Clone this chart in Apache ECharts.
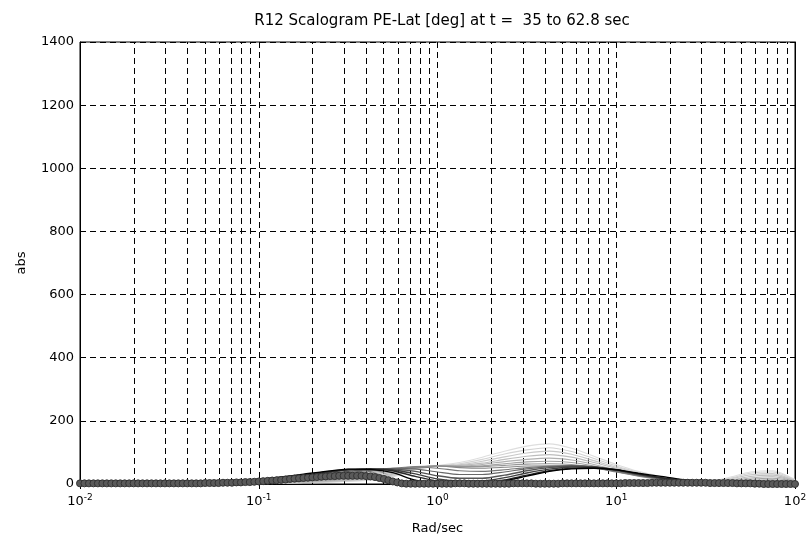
<!DOCTYPE html>
<html>
<head>
<meta charset="utf-8">
<script src="https://cdn.jsdelivr.net/npm/echarts@6/dist/echarts.min.js"></script>
<style>html,body{margin:0;padding:0;background:#fff}#chart{width:810px;height:544px}</style>
</head>
<body>
<div id="chart"></div>
<script>
// frequency grid (rad/sec) for the scalogram slices
const freqs = [0.01,0.0133,0.0178,0.0237,0.0316,0.0422,0.0562,0.075,0.1,0.133,0.178,0.237,0.316,0.422,0.562,0.75,1,1.33,1.78,2.37,3.16,4.22,5.62,7.5,10,13.3,17.8,23.7,31.6,42.2,56.2,75,100];

// slices, lightest (first) to darkest (last)
const c01 = [1,1,1,1,2,2,2,3, 3,3,4,5,8,12,22,45,58, 68,85,104,120,127,113,88,62,40,24,14,8,20,38,42,14];
const c02 = [1,1,1,2,2,2,3,3, 3,4,5,6,9,14,25,46,57, 64,78,95,108,115,103,81,57,37,22,13,8,17,34,38,13];
const c03 = [1,1,1,2,2,2,3,3, 4,4,5,7,11,16,28,47,56, 61,72,86,98,104,94,74,53,34,20,12,7,14,29,33,11];
const c04 = [1,1,2,2,2,3,3,4, 4,5,6,8,12,18,31,48,56, 59,66,78,88,93,85,68,49,31,19,11,7,11,24,28,10];
const c05 = [1,2,2,2,3,3,4,4, 5,6,7,10,14,21,34,49,57, 57,62,71,78,82,76,62,45,29,17,10,6,9,19,23,9];
const c06 = [2,2,2,3,3,3,4,5, 5,7,9,12,17,25,38,51,58, 56,58,64,70,72,68,57,42,27,16,9,6,7,15,18,8];
const c07 = [2,2,2,3,3,4,4,5, 6,8,11,15,21,30,42,53,58, 55,55,59,63,64,62,53,40,26,15,9,5,6,11,13,6];
const c08 = [2,2,3,3,3,4,5,6, 7,10,14,19,26,35,46,55,57, 52,50,53,57,58,58,51,38,25,15,8,5,5,8,9,5];
const c09 = [2,2,3,3,4,4,5,6, 8,12,17,24,31,40,50,54,50, 42,40,45,52,56,57,52,40,27,16,9,5,4,5,5,4];
const c10 = [2,3,3,3,4,5,6,7, 9,14,20,28,36,44,50,48,38, 30,30,38,48,55,58,54,42,28,17,9,5,3,4,4,3];
const c11 = [2,3,3,4,4,5,6,8, 10,16,24,32,40,46,48,40,26, 18,18,28,42,52,57,55,44,30,18,10,5,3,3,3,2];
const c12 = [3,3,3,4,5,5,7,9, 12,18,27,36,44,48,45,32,16, 10,10,20,35,47,54,54,45,31,19,10,5,2,2,2,2];
const c13 = [3,3,4,4,5,6,7,10, 13,20,29,38,46,48,42,24,9, 5,5,13,28,42,50,52,45,32,20,11,5,2,2,2,1];
const c14 = [3,3,4,4,5,6,7,10, 14,22,31,40,47,46,36,12,4, 3,4,10,25,40,48,50,45,34,24,14,8,4,2,2,1];
const slices = [c01,c02,c03,c04,c05,c06,c07,c08,c09,c10,c11,c12,c13,c14];
const sliceColors = ['#dedede','#d3d3d3','#c8c8c8','#bdbdbd','#b1b1b1','#a4a4a4','#969696','#888888','#787878','#686868','#555555','#404040','#282828','#000000'];

// final slice drawn with circle markers
const beadFreqs = [
  0.01,0.01059,0.01122,0.01189,0.01259,0.01334,0.01413,0.01496,0.01585,0.01679,0.01778,0.01884,0.01995,0.02113,0.02239,0.02371,0.02512,0.02661,0.02818,0.02985,0.03162,0.0335,0.03548,0.03758,0.03981,0.04217,0.04467,0.04732,0.05012,0.05309,0.05623,0.05957,0.0631,0.06683,0.07079,0.07499,0.07943,0.08414,0.08913,0.09441,
  0.1,0.1059,0.1122,0.1189,0.1259,0.1334,0.1413,0.1496,0.1585,0.1679,0.1778,0.1884,0.1995,0.2113,0.2239,0.2371,0.2512,0.2661,0.2818,0.2985,0.3162,0.335,0.3548,0.3758,0.3981,0.4217,0.4467,0.4732,0.5012,0.5309,0.5623,0.5957,0.631,0.6683,0.7079,0.7499,0.7943,0.8414,0.8913,0.9441,
  1,1.059,1.122,1.189,1.259,1.334,1.413,1.496,1.585,1.679,1.778,1.884,1.995,2.113,2.239,2.371,2.512,2.661,2.818,2.985,3.162,3.35,3.548,3.758,3.981,4.217,4.467,4.732,5.012,5.309,5.623,5.957,6.31,6.683,7.079,7.499,7.943,8.414,8.913,9.441,
  10,10.59,11.22,11.89,12.59,13.34,14.13,14.96,15.85,16.79,17.78,18.84,19.95,21.13,22.39,23.71,25.12,26.61,28.18,29.85,31.62,33.5,35.48,37.58,39.81,42.17,44.67,47.32,50.12,53.09,56.23,59.57,63.1,66.83,70.79,74.99,79.43,84.14,89.13,94.41,
  100];
const beadVals = [
  2,2,2,2,2,2,2,2,2,2,2,2,2,2,2,2,2,2,2,2,2,2,2,2,2,
  2,2,2,3,3,3,3,4,4,4,5,5,6,6,7,8,9,10,11,12,13,14,16,17,18,19,20,21,22,23,24,25,25,26,26,26,26,26,26,25,24,22,19,16,12,8,5,2,1,1,
  1,1,1,1,1,1,1,1,1,2,2,2,1,1,1,1,1,1,1,1,1,1,2,2,2,2,2,1,1,1,1,1,1,2,2,2,2,2,2,2,2,2,2,2,2,2,
  2,3,3,3,3,3,3,4,4,4,4,4,4,4,4,4,4,4,4,4,3,3,3,3,3,3,2,2,2,2,
  1,1,0,0,0,0,0,0,0,0];

// axes
const xMin = 0.01, xMax = 100;
const yMin = 0, yMax = 1400, yStep = 200;
const xTickExps = {'0.01':'-2','0.1':'-1','1':'0','10':'1','100':'2'};
const minorGridX = [0.02,0.03,0.04,0.05,0.06,0.07,0.08,0.09,0.2,0.3,0.4,0.5,0.6,0.7,0.8,0.9,2,3,4,5,6,7,8,9,20,30,40,50,60,70,80,90];

const FONT = 'DejaVu Sans, Liberation Sans, Arial, sans-serif';
const dash = [6,4];

const series = slices.map((vals, i) => ({
  type: 'line',
  data: freqs.map((f, k) => [f, vals[k]]),
  showSymbol: false,
  symbol: 'none',
  smooth: 0.25,
  lineStyle: { color: sliceColors[i], width: i >= 10 ? 1.4 : 1.1 },
  z: 3 + i,
  silent: true
}));
series.unshift({
  type: 'line',
  data: [],
  silent: true,
  markLine: {
    silent: true,
    symbol: 'none',
    label: { show: false },
    lineStyle: { color: '#000', type: dash, width: 1 },
    data: minorGridX.map(v => ({ xAxis: v }))
  },
  z: 1
});
series.push({
  type: 'line',
  data: beadFreqs.map((f, k) => [f, beadVals[k]]),
  symbol: 'circle',
  symbolSize: 7,
  showAllSymbol: true,
  lineStyle: { color: '#4a4a4a', width: 1.5 },
  itemStyle: { color: '#5a5a5a', borderColor: '#333333', borderWidth: 1 },
  z: 30,
  silent: true
});

const chart = echarts.init(document.getElementById('chart'), null, { renderer: 'canvas' });
chart.setOption({
  animation: false,
  backgroundColor: '#fff',
  textStyle: { fontFamily: FONT },
  title: {
    text: 'R12 Scalogram PE-Lat [deg] at t =  35 to 62.8 sec',
    left: 437, top: 9, textAlign: 'center',
    textStyle: { fontFamily: FONT, fontSize: 15, fontWeight: 'normal', color: '#000' }
  },
  grid: { left: 80, right: 15, top: 42, bottom: 60, show: true, borderColor: '#000', borderWidth: 1, backgroundColor: 'transparent' },
  xAxis: [{
    type: 'log', logBase: 10, min: xMin, max: xMax, splitNumber: 4,
    name: 'Rad/sec', nameLocation: 'middle', nameGap: 38,
    nameTextStyle: { fontFamily: FONT, fontSize: 13, color: '#000' },
    axisLine: { show: true, lineStyle: { color: '#000', width: 1 } },
    axisTick: { show: true, inside: true, length: 5, lineStyle: { color: '#000' } },
    minorTick: { show: false },
    splitLine: { show: true, lineStyle: { color: '#000', type: dash, width: 1 } },
    axisLabel: {
      margin: 8, color: '#000',
      formatter: v => {
        const e = xTickExps[String(+v.toPrecision(6))];
        return e === undefined ? '' : '{b|10}{s|' + e + '}';
      },
      rich: {
        b: { fontFamily: FONT, fontSize: 13, color: '#000', verticalAlign: 'bottom', lineHeight: 16 },
        s: { fontFamily: FONT, fontSize: 9, color: '#000', verticalAlign: 'bottom', lineHeight: 16, padding: [0, 0, 6, 0] }
      }
    }
  }, {
    type: 'log', logBase: 10, min: xMin, max: xMax, splitNumber: 4, position: 'top',
    axisLine: { show: true, lineStyle: { color: '#000' } },
    axisTick: { show: true, inside: true, length: 5, lineStyle: { color: '#000' } },
    axisLabel: { show: false }, splitLine: { show: false }
  }],
  yAxis: [{
    type: 'value', min: yMin, max: yMax, interval: yStep,
    name: 'abs', nameLocation: 'middle', nameGap: 52, nameRotate: 90,
    nameTextStyle: { fontFamily: FONT, fontSize: 13, color: '#000' },
    axisLine: { show: true, lineStyle: { color: '#000' } },
    axisTick: { show: true, inside: true, length: 5, lineStyle: { color: '#000' } },
    splitLine: { show: true, lineStyle: { color: '#000', type: dash, width: 1 } },
    axisLabel: { fontFamily: FONT, fontSize: 13, color: '#000', margin: 6, formatter: v => String(v) }
  }, {
    type: 'value', min: yMin, max: yMax, interval: yStep, position: 'right',
    axisLine: { show: true, lineStyle: { color: '#000' } },
    axisTick: { show: true, inside: true, length: 5, lineStyle: { color: '#000' } },
    axisLabel: { show: false }, splitLine: { show: false }
  }],
  series: series
});
</script>
</body>
</html>
